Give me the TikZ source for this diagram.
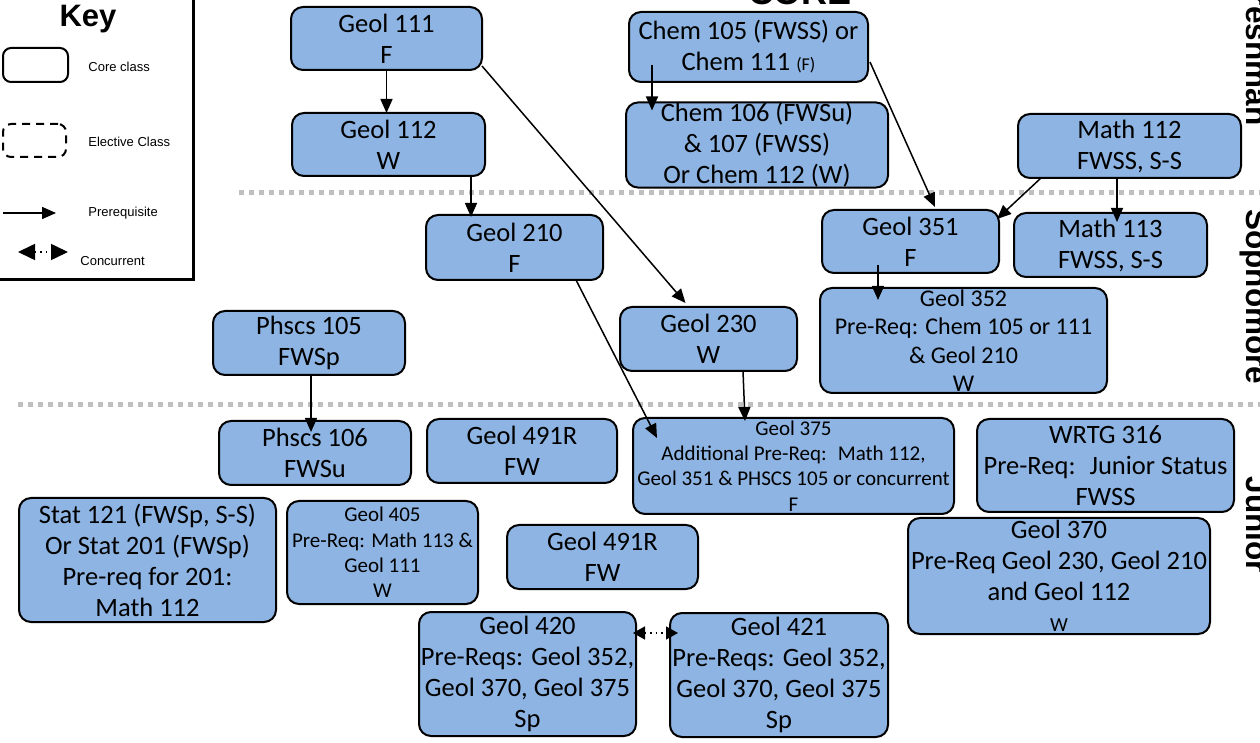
\documentclass[tikz,border=0pt]{standalone}
\usepackage{fontspec}
\setmainfont{Carlito}
\newfontfamily\arialf{Liberation Sans}
\usetikzlibrary{arrows.meta,calc}
\definecolor{boxblue}{RGB}{141,180,226}
\definecolor{sepgray}{RGB}{191,191,191}
\begin{document}
\begin{tikzpicture}[x=0.5pt,y=-0.5pt,
 box/.style={draw,line width=1pt,fill=boxblue,rounded corners=6pt,align=center,inner sep=0pt,outer sep=0pt,font=\fontsize{13.25}{15.5}\selectfont},
 smallbox/.style={box,font=\fontsize{10.5}{12.6}\selectfont},
 midbox/.style={box,font=\fontsize{12}{14.25}\selectfont},
 pre/.style={line width=0.75pt,-{Triangle[length=7pt,width=6pt]}},
 conc/.style={line width=0.75pt,dotted,{Triangle[length=6pt,width=6.5pt]}-{Triangle[length=6pt,width=6.5pt]}},
 keyconc/.style={line width=0.8pt,dotted,{Triangle[length=8.5pt,width=8pt]}-{Triangle[length=8.5pt,width=8pt]}},
 sep/.style={sepgray,line width=2.5pt,dash pattern=on 2.6pt off 2.4pt},
 year/.style={font=\arialf\bfseries\fontsize{15.75}{18}\selectfont,rotate=-90,anchor=base,inner sep=0pt},
 keylab/.style={font=\arialf\fontsize{6.5}{8}\selectfont,anchor=west,inner sep=0pt},
]
\useasboundingbox (0,0) rectangle (1260,743);
\clip (0,0) rectangle (1260,743);

% separators
\coordinate (s1a) at (239,193); \coordinate (s1b) at (1262,193);
\coordinate (s2a) at (18,405); \coordinate (s2b) at (1262,405);
\draw[sep] (s1a) -- (s1b);
\draw[sep] (s2a) -- (s2b);

% key
\draw[line width=1.5pt] (-10,-10) rectangle (193,280);
\node[font=\arialf\bfseries\fontsize{15.5}{18}\selectfont,anchor=base,inner sep=0pt] (keyt) at (88,27) {Key};
\node[draw,line width=1pt,rounded corners=4pt,minimum width=32.5pt,minimum height=17pt,inner sep=0pt] (kcore) at (35.5,65) {};
\node[keylab] (kcorel) at (88,67) {Core class};
\node[draw,line width=1pt,dash pattern=on 4pt off 3pt,rounded corners=4pt,minimum width=31.5pt,minimum height=16.5pt,inner sep=0pt] (kel) at (34.5,140.5) {};
\node[keylab] (kell) at (88,142) {Elective Class};
\coordinate (kp1) at (3,213); \coordinate (kp2) at (56,213);
\draw[pre] (kp1) -- (kp2);
\node[keylab] (kprel) at (88,213) {Prerequisite};
\coordinate (kc1) at (18,252); \coordinate (kc2) at (68,252);
\draw[keyconc] (kc1) -- (kc2);
\node[keylab] (kconl) at (80,261) {Concurrent};

% titles
\node[font=\arialf\bfseries\fontsize{18}{20}\selectfont,anchor=base,inner sep=0pt] (core) at (800,5) {CORE};
\node[year] (fr) at (1246,50) {Freshman};
\node[year] (so) at (1246,297) {Sophomore};
\node[year] (ju) at (1246,525) {Junior};

% boxes
\node[box,minimum width=95.5pt,minimum height=31.5pt] (g111) at (386.5,38.5) {Geol 111\\F};
\node[box,minimum width=119.5pt,minimum height=35pt] (c105) at (748.5,47) {Chem 105 (FWSS) or\\Chem 111 {\fontsize{9}{10}\selectfont (F)}};
\node[box,minimum width=96.5pt,minimum height=31.5pt] (g112) at (388.5,144.5) {Geol 112\\W};
\node[box,minimum width=131pt,minimum height=42pt] (c106) at (757,145) {Chem 106 (FWSu)\\\& 107 (FWSS)\\Or Chem 112 (W)};
\node[box,minimum width=111.5pt,minimum height=32pt] (m112) at (1129.5,146) {Math 112\\FWSS, S-S};
\node[box,minimum width=88.5pt,minimum height=32.5pt] (g210) at (514.5,247.5) {Geol 210\\F};
\node[box,minimum width=88.5pt,minimum height=31.5pt] (g351) at (910.5,241.5) {Geol 351\\F};
\node[box,minimum width=96.5pt,minimum height=32pt] (m113) at (1110.5,245) {Math 113\\FWSS, S-S};
\node[box,minimum width=88.5pt,minimum height=32pt] (g230) at (708.5,339) {Geol 230\\W};
\node[midbox,minimum width=143.5pt,minimum height=52.5pt] (g352) at (963.5,340.5) {Geol 352\\Pre-Req: Chem 105 or 111\\\& Geol 210\\W};
\node[box,minimum width=96pt,minimum height=32pt] (p105) at (309,343) {Phscs 105\\FWSp};
\node[box,minimum width=96pt,minimum height=32pt] (p106) at (315,453) {Phscs 106\\FWSu};
\node[box,minimum width=95pt,minimum height=32pt] (g491a) at (522,451) {Geol 491R\\FW};
\node[smallbox,minimum width=160.5pt,minimum height=48pt] (g375) at (793.5,466) {Geol 375\\Additional Pre-Req:~ Math 112,\\Geol 351 \& PHSCS 105 or concurrent\\F};
\node[box,minimum width=128.5pt,minimum height=46.5pt] (w316) at (1105.5,465.5) {WRTG 316\\Pre-Req:~ Junior Status\\FWSS};
\node[box,minimum width=128.5pt,minimum height=62pt] (s121) at (147.5,560) {Stat 121 (FWSp, S-S)\\Or Stat 201 (FWSp)\\Pre-req for 201:\\Math 112};
\node[smallbox,minimum width=95.5pt,minimum height=51.5pt] (g405) at (382.5,552.5) {Geol 405\\Pre-Req: Math 113 \&\\Geol 111\\W};
\node[box,minimum width=95.5pt,minimum height=32pt] (g491b) at (602.5,557) {Geol 491R\\FW};
\node[box,minimum width=151pt,minimum height=58pt] (g370) at (1059,576) {Geol 370\\Pre-Req Geol 230, Geol 210\\and Geol 112\\{\fontsize{10}{12}\selectfont W}};
\node[box,minimum width=108.5pt,minimum height=62pt] (g420) at (527.5,674) {Geol 420\\Pre-Reqs: Geol 352,\\Geol 370, Geol 375\\Sp};
\node[box,minimum width=109pt,minimum height=62pt] (g421) at (779,675) {Geol 421\\Pre-Reqs: Geol 352,\\Geol 370, Geol 375\\Sp};

% connectors
\draw[pre] (g111.south) -- (g111.south |- g112.north);
\draw[pre] ($(g111.south east)+(0,-4)$) -- ($(g230.north)+(-23,-4)$);
\draw[pre] ($(c105.south west)+(23,-17)$) -- ($(c106.north west)+(26,8)$);
\draw[pre] ($(c105.south east)+(2,-20)$) -- ($(g351.north west)+(113,-3)$);
\draw[pre] ($(m112.south west)+(23,0)$) -- ($(g351.north east)+(-2,9)$);
\draw[pre] ($(m112.south west)+(99,0)$) -- ($(m113.north west)+(103,9)$);
\draw[pre] ($(g112.south west)+(179,0)$) -- ($(g210.north west)+(45,2)$);
\draw[pre] ($(g210.south east)+(-27,0)$) -- ($(g375.north west)+(24,20)$);
\draw[pre] ($(g230.south west)+(123,0)$) -- ($(g375.north west)+(112,3)$);
\draw[pre] ($(g351.south west)+(56,-8)$) -- ($(g352.north west)+(58,12)$);
\draw[pre] ($(p105.south west)+(98,0)$) -- ($(p106.north west)+(92,11)$);
\draw[conc] ($(g420.north east)+(-3,21)$) -- ($(g421.north west)+(8,20)$);
\end{tikzpicture}
\end{document}
